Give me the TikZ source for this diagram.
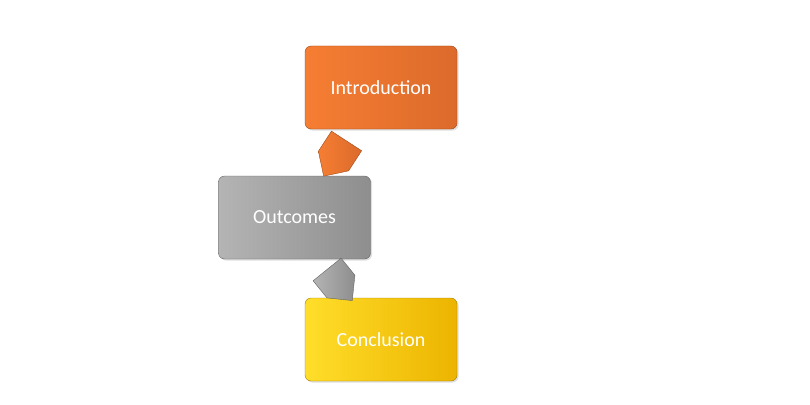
\documentclass[tikz,border=0pt]{standalone}
\usepackage{fontspec}
\setmainfont{Carlito}
\usetikzlibrary{shapes.arrows,shadows}
\begin{document}
\begin{tikzpicture}[x=1pt,y=1pt,
  box/.style={rounded corners=6pt,minimum width=152pt,minimum height=83pt,text=white,font=\fontsize{20}{24}\selectfont,draw=#1!70!black,line width=0.4pt,drop shadow={opacity=0.25,shadow xshift=1.5pt,shadow yshift=-1.5pt}},
  barrow/.style={single arrow,minimum height=40pt,minimum width=34pt,single arrow head extend=0pt,inner sep=6pt,draw=#1!70!black,line width=0.4pt}]
\useasboundingbox (0,0) rectangle (810,-404);
\definecolor{oA}{HTML}{F67E33}\definecolor{oB}{HTML}{DC6A2B}
\definecolor{gA}{HTML}{B4B4B4}\definecolor{gB}{HTML}{8E8E8E}
\definecolor{yA}{HTML}{FFDE2A}\definecolor{yB}{HTML}{ECB400}
\node[box=oB,left color=oA,right color=oB] (intro) at (381,-87.5) {Introduction};
\node[box=gB,left color=gA,right color=gB] (out) at (294.5,-217.5) {Outcomes};
\node[box=yB,left color=yA,right color=yB] (conc) at (381,-339.5) {Conclusion};
\node[barrow=oB,left color=oA,right color=oB,rotate=237,minimum height=42pt,minimum width=36pt,inner sep=5pt] (a1) at (340,-151) {};
\node[barrow=gB,left color=gA,right color=gB,rotate=-51,minimum height=40pt,minimum width=36pt,inner sep=5pt] (a2) at (334,-278) {};
\end{tikzpicture}
\end{document}
